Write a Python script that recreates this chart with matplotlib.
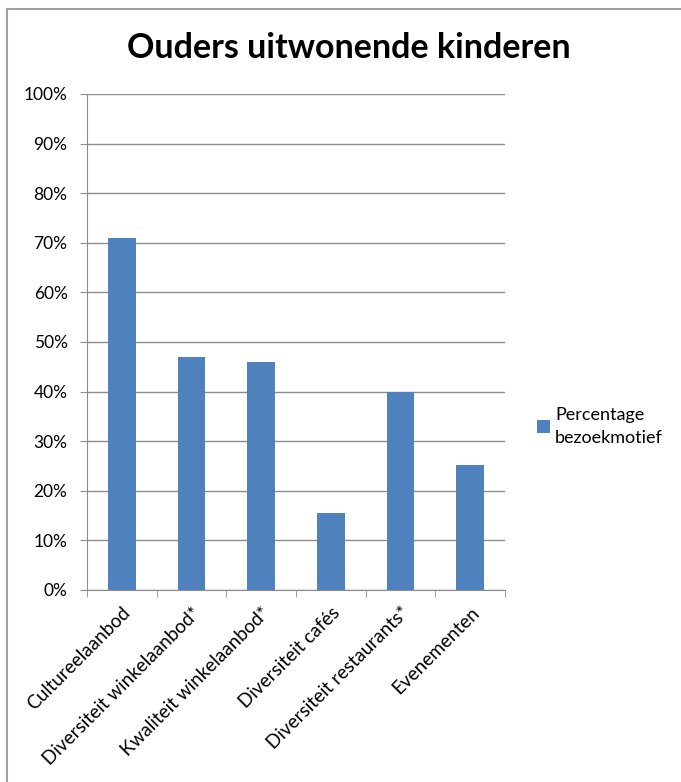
import matplotlib.pyplot as plt
from matplotlib.patches import Rectangle
import numpy as np

categories = ["Cultureelaanbod", "Diversiteit winkelaanbod*", "Kwaliteit winkelaanbod*",
              "Diversiteit cafés", "Diversiteit restaurants*", "Evenementen"]
values = [71, 47, 46, 15.5, 40, 25.3]
series_name = "Percentage\nbezoekmotief"

plt.rcParams['font.family'] = ['Lato', 'DejaVu Sans']

fig = plt.figure(figsize=(6.81, 7.82), dpi=100)
ax = fig.add_axes([87 / 681, 192 / 782, 418 / 681, 496 / 782])

# chart border (grey frame, cut at right/bottom)
fig.patches.append(Rectangle((7 / 681, -0.1), 1.2, (782 - 9) / 782 + 0.1,
                             transform=fig.transFigure, fill=False,
                             edgecolor='#a0a0a0', linewidth=1.5))

x = np.arange(len(categories))
ax.bar(x, values, width=0.4, color='#4F81BD', label=series_name, zorder=3)

ax.set_xlim(-0.5, len(categories) - 0.5)
ax.set_ylim(0, 100)
ax.set_yticks(np.arange(0, 101, 10))
ax.set_yticklabels([f"{v}%" for v in range(0, 101, 10)], fontsize=12.5)
ax.yaxis.grid(True, color='#8c8c8c', linewidth=1, zorder=0)

ax.set_xticks(x)
ax.set_xticklabels(categories, rotation=45, ha='right', rotation_mode='anchor', fontsize=13.6)
ax.tick_params(axis='x', which='major', length=0, pad=10)
ax.set_xticks(np.arange(-0.5, len(categories)), minor=True)
ax.tick_params(axis='x', which='minor', length=5, color='#8c8c8c', direction='out')
ax.tick_params(axis='y', length=5, color='#8c8c8c', pad=9)

for s in ['top', 'right']:
    ax.spines[s].set_visible(False)
for s in ['left', 'bottom']:
    ax.spines[s].set_color('#8c8c8c')

fig.text(0.512, (782 - 48) / 782, "Ouders uitwonende kinderen", ha='center', va='center',
         fontsize=24.5, fontweight='bold')

leg = ax.legend(loc='center left', bbox_to_anchor=(1.077, 0.33), frameon=False, fontsize=13,
                handlelength=0.7, handleheight=0.7, handletextpad=0.3,
                borderaxespad=0, borderpad=0)
for t in leg.get_texts():
    t.set_linespacing(1.5)

fig.savefig("out.png", dpi=100)
